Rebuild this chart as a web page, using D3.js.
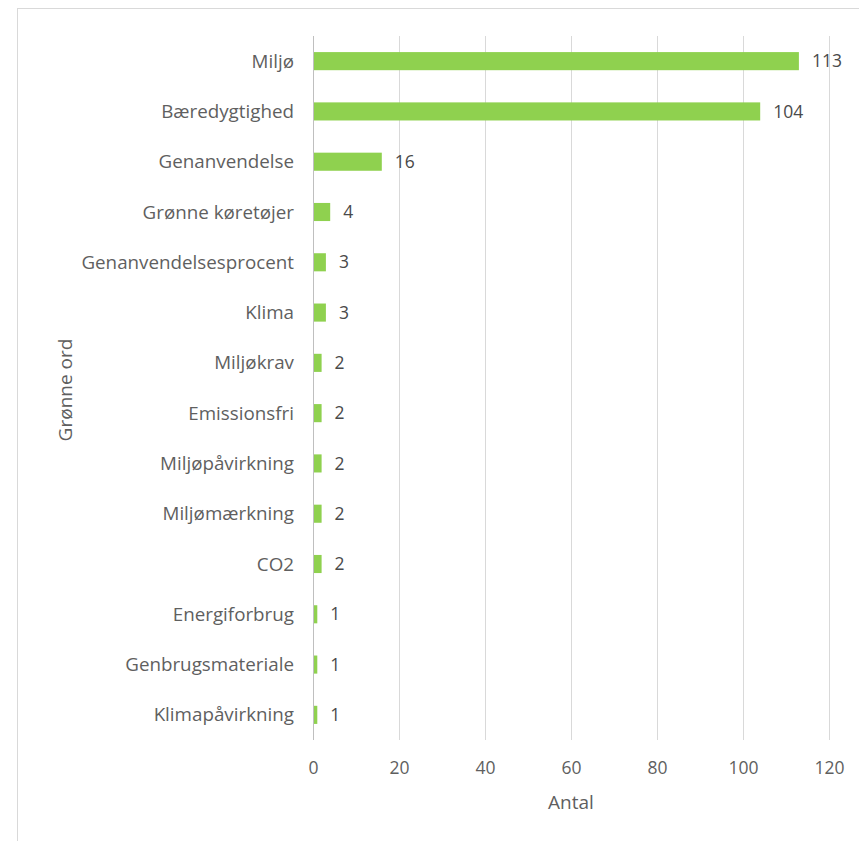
<!DOCTYPE html>
<html>
<head>
<meta charset="utf-8">
<script src="https://cdn.jsdelivr.net/npm/d3@7"></script>
<style>
  html, body { margin: 0; padding: 0; background: #fff; }
  svg { display: block; }
  text { font-family: "Open Sans", Lato, sans-serif; fill: #5f5f5f; }
</style>
</head>
<body>
<svg id="chart" width="859" height="841"></svg>
<script>
const words = ["Miljø", "Bæredygtighed", "Genanvendelse", "Grønne køretøjer",
  "Genanvendelsesprocent", "Klima", "Miljøkrav", "Emissionsfri",
  "Miljøpåvirkning", "Miljømærkning", "CO2", "Energiforbrug",
  "Genbrugsmateriale", "Klimapåvirkning"];
const counts = [113, 104, 16, 4, 3, 3, 2, 2, 2, 2, 2, 1, 1, 1];
const xTicks = [0, 20, 40, 60, 80, 100, 120];
const xTitle = "Antal";
const yTitle = "Grønne ord";

const svg = d3.select("#chart");

// chart frame
svg.append("rect")
  .attr("x", 17.5).attr("y", 8.5)
  .attr("width", 900).attr("height", 900)
  .attr("fill", "none").attr("stroke", "#d9d9d9").attr("stroke-width", 1);

const plotLeft = 313, plotRight = 829, plotTop = 36, plotBottom = 740;

const x = d3.scaleLinear().domain([0, 120]).range([plotLeft, plotRight]);
const y = d3.scaleBand().domain(words).range([plotTop, plotBottom])
  .paddingInner(0.64).paddingOuter(0.32);

// vertical gridlines
svg.append("g").selectAll("line")
  .data(xTicks.filter(t => t > 0))
  .join("line")
  .attr("x1", d => Math.round(x(d)) + 0.5).attr("x2", d => Math.round(x(d)) + 0.5)
  .attr("y1", plotTop).attr("y2", plotBottom)
  .attr("stroke", "#d9d9d9").attr("stroke-width", 1);

// bars
svg.append("g").selectAll("rect")
  .data(words)
  .join("rect")
  .attr("x", x(0))
  .attr("y", d => y(d))
  .attr("width", (d, i) => x(counts[i]) - x(0))
  .attr("height", y.bandwidth())
  .attr("fill", "#8fd14f");

// category axis line
svg.append("line")
  .attr("x1", x(0) + 0.5).attr("x2", x(0) + 0.5)
  .attr("y1", plotTop).attr("y2", plotBottom)
  .attr("stroke", "#bfbfbf").attr("stroke-width", 1);

// category labels
svg.append("g").selectAll("text")
  .data(words)
  .join("text")
  .attr("x", x(0) - 19)
  .attr("y", d => y(d) + y.bandwidth() / 2)
  .attr("dy", "0.35em")
  .attr("text-anchor", "end")
  .attr("font-size", 18.8)
  .text(d => d);

// value labels
svg.append("g").selectAll("text")
  .data(words)
  .join("text")
  .attr("x", (d, i) => x(counts[i]) + 13)
  .attr("y", d => y(d) + y.bandwidth() / 2)
  .attr("dy", "0.35em")
  .attr("font-size", 17.5)
  .style("fill", "#4a4a4a")
  .text((d, i) => counts[i]);

// value axis tick labels
const xAxis = d3.axisBottom(x).tickValues(xTicks).tickSize(0).tickPadding(0);
const ax = svg.append("g").attr("transform", `translate(0, ${plotBottom + 28})`).call(xAxis);
ax.select(".domain").remove();
ax.selectAll("text")
  .attr("font-size", 17.5)
  .attr("font-family", null)
  .attr("dy", "0.35em")
  .attr("y", 0)
  .style("fill", "#5f5f5f");

// axis titles
svg.append("text")
  .attr("x", (plotLeft + plotRight) / 2).attr("y", 802)
  .attr("dy", "0.35em")
  .attr("text-anchor", "middle")
  .attr("font-size", 19)
  .text(xTitle);

svg.append("text")
  .attr("transform", "translate(65, 390) rotate(-90)")
  .attr("dy", "0.35em")
  .attr("text-anchor", "middle")
  .attr("font-size", 19)
  .text(yTitle);
</script>
</body>
</html>
